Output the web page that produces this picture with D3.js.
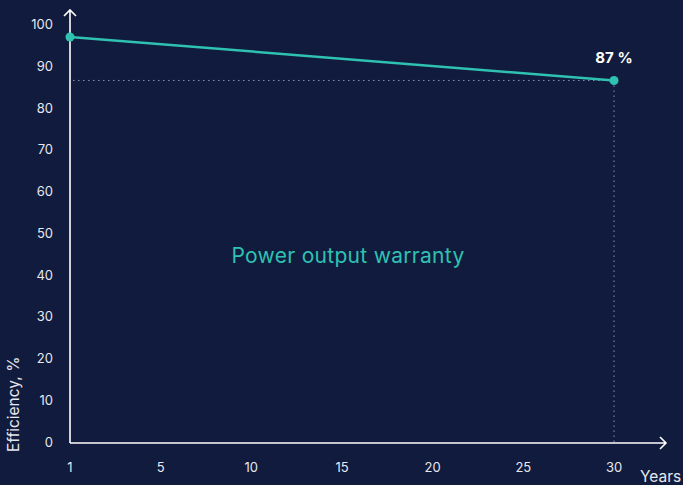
<!DOCTYPE html>
<html>
<head>
<meta charset="utf-8">
<script src="https://cdn.jsdelivr.net/npm/d3@7"></script>
<style>
  body { margin: 0; background: #101b3d; }
  svg { display: block; font-family: Inter, "Open Sans", sans-serif; }
</style>
</head>
<body>
<div id="chart"></div>
<script>
// data
const xTicks = [1, 5, 10, 15, 20, 25, 30];
const yTicks = [0, 10, 20, 30, 40, 50, 60, 70, 80, 90, 100];
const years = [1, 30];
const efficiency = [97, 86.6];
const endLabel = '87 %';
const centerLabel = 'Power output warranty';

const width = 683, height = 485;
const bg = '#101b3d', teal = '#2fc1b2', axisColor = '#ffffff';

const svg = d3.select('#chart').append('svg')
  .attr('width', width)
  .attr('height', height);

svg.append('rect').attr('width', width).attr('height', height).attr('fill', bg);

const x = d3.scalePoint().domain(xTicks).range([70, 614]);
const y = d3.scaleLinear().domain([0, 100]).range([442, 24.5]);

// y tick labels
svg.append('g').selectAll('text')
  .data(yTicks)
  .join('text')
    .attr('x', 53)
    .attr('y', d => y(d))
    .attr('dy', '0.35em')
    .attr('text-anchor', 'end')
    .attr('fill', '#e6e8ee')
    .attr('font-size', 13)
    .text(d => d);

// x tick labels
svg.append('g').selectAll('text')
  .data(xTicks)
  .join('text')
    .attr('x', d => x(d))
    .attr('y', 467)
    .attr('dy', '0.35em')
    .attr('text-anchor', 'middle')
    .attr('fill', '#e6e8ee')
    .attr('font-size', 13)
    .text(d => d);

// dotted guides to the end value
const endX = x(years[1]), endY = y(efficiency[1]);
svg.append('line')
  .attr('x1', x(xTicks[0]) + 3).attr('x2', endX)
  .attr('y1', endY).attr('y2', endY)
  .attr('stroke', '#8a93ad').attr('stroke-width', 1)
  .attr('stroke-dasharray', '1.5,3.5');
svg.append('line')
  .attr('x1', endX).attr('x2', endX)
  .attr('y1', endY).attr('y2', y(0))
  .attr('stroke', '#8a93ad').attr('stroke-width', 1)
  .attr('stroke-dasharray', '1.5,3.5');

// axes with arrows
const x0 = x(xTicks[0]), y0 = y(0) + 1;
svg.append('path')
  .attr('d', `M${x0},${y0}V10M${x0 - 6},16L${x0},10L${x0 + 6},16`)
  .attr('fill', 'none').attr('stroke', axisColor).attr('stroke-width', 1.6);
svg.append('path')
  .attr('d', `M${x0},${y0}H666M660,${y0 - 6}L666,${y0}L660,${y0 + 6}`)
  .attr('fill', 'none').attr('stroke', axisColor).attr('stroke-width', 1.6);

// line
const line = d3.line()
  .x((d, i) => x(years[i]))
  .y(d => y(d));

svg.append('path')
  .datum(efficiency)
  .attr('d', line)
  .attr('fill', 'none')
  .attr('stroke', teal)
  .attr('stroke-width', 2.5);

svg.append('g').selectAll('circle')
  .data(efficiency)
  .join('circle')
    .attr('cx', (d, i) => x(years[i]))
    .attr('cy', d => y(d))
    .attr('r', 4.5)
    .attr('fill', teal);

svg.append('text')
  .attr('x', endX)
  .attr('y', endY - 23)
  .attr('dy', '0.35em')
  .attr('text-anchor', 'middle')
  .attr('fill', '#ffffff')
  .attr('font-size', 15)
  .attr('font-weight', 700)
  .text(endLabel);

svg.append('text')
  .attr('x', 348)
  .attr('y', 256)
  .attr('dy', '0.35em')
  .attr('text-anchor', 'middle')
  .attr('fill', teal)
  .attr('font-size', 21)
  .attr('letter-spacing', 0.3)
  .text(centerLabel);

// axis titles
svg.append('text')
  .attr('x', 640)
  .attr('y', 477)
  .attr('dy', '0.35em')
  .attr('fill', '#e6e8ee')
  .attr('font-size', 15.5)
  .text('Years');

svg.append('text')
  .attr('transform', 'translate(14,452) rotate(-90)')
  .attr('dy', '0.35em')
  .attr('fill', '#e6e8ee')
  .attr('font-size', 15.5)
  .text('Efficiency, %');
</script>
</body>
</html>
